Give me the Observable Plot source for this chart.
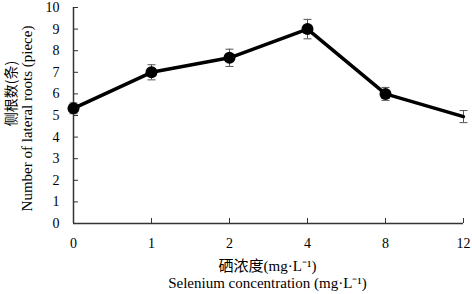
<!DOCTYPE html>
<html><head><meta charset="utf-8">
<script src="https://cdn.jsdelivr.net/npm/d3@7"></script>
<script src="https://cdn.jsdelivr.net/npm/@observablehq/plot@0.6"></script>
<style>
body{margin:0;background:#fff;}
#c{position:relative;width:472px;height:294px;}
svg{font-family:"Liberation Serif","Times New Roman",serif;}
</style></head>
<body><div id="c"></div>
<script>
const concentrations = ["0","1","2","4","8","12"];
const rootCounts = [5.33, 7.0, 7.67, 9.0, 6.0, 4.95];
const errors = [0.25, 0.35, 0.4, 0.45, 0.3, 0.28];
const showDot = [true, true, true, true, true, false];
const yTicks = [0,1,2,3,4,5,6,7,8,9,10];
const yTitleCn = "侧根数(条)";
const yTitleEn = "Number of lateral roots (piece)";
const xTitleCn = "硒浓度(mg·L⁻¹)";
const xTitleEn = "Selenium concentration (mg·L⁻¹)";

const data = concentrations.map((c,i)=>({c, v: rootCounts[i], e: errors[i], dot: showDot[i]}));
const capSymbol = {draw(ctx){ ctx.moveTo(-4,0); ctx.lineTo(4,0); }};

const plot = Plot.plot({
  width: 472, height: 294,
  marginLeft: 73, marginRight: 9, marginTop: 7, marginBottom: 71,
  style: {fontFamily: '"Liberation Serif","Times New Roman",serif', fontSize: "14px", color: "#000", background: "#fff"},
  x: {type: "point", domain: concentrations, padding: 0},
  y: {domain: [0, 10]},
  marks: [
    Plot.axisY({ticks: yTicks, tickSize: -5, text: null, stroke: "#333", label: null}),
    Plot.axisY({ticks: yTicks, tickSize: 0, tickPadding: 14, label: null, fontSize: 14}),
    Plot.axisX({tickSize: -5, text: null, stroke: "#333", label: null}),
    Plot.axisX({tickSize: 0, tickPadding: 15, label: null, fontSize: 14}),
    Plot.ruleX([0], {x: () => "0", y1: 0, y2: 10, stroke: "#333", strokeWidth: 1.5}),
    Plot.ruleY([0], {stroke: "#333", strokeWidth: 1.5}),
    Plot.ruleX(data, {x: "c", y1: d => d.v - d.e, y2: d => d.v + d.e, stroke: "#555", strokeWidth: 1}),
    Plot.dot(data, {x: "c", y: d => d.v - d.e, symbol: capSymbol, r: 4, stroke: "#555", fill: "none", strokeWidth: 1}),
    Plot.dot(data, {x: "c", y: d => d.v + d.e, symbol: capSymbol, r: 4, stroke: "#555", fill: "none", strokeWidth: 1}),
    Plot.line(data, {x: "c", y: "v", stroke: "#000", strokeWidth: 3.5}),
    Plot.dot(data.filter(d => d.dot), {x: "c", y: "v", r: 6, fill: "#000", stroke: "none"}),
    Plot.text([yTitleCn], {frameAnchor: "left", textAnchor: "middle", dx: -62, dy: -22, rotate: -90, fontSize: 14, fontFamily: '"Noto Sans CJK SC", serif', text: d => d}),
    Plot.text([yTitleEn], {frameAnchor: "left", textAnchor: "middle", dx: -46, dy: 3, rotate: -90, fontSize: 15, text: d => d}),
    Plot.text([xTitleCn], {frameAnchor: "bottom", dx: -1, dy: 47, fontSize: 15, fontFamily: '"Liberation Serif","Noto Sans CJK SC", serif', text: d => d}),
    Plot.text([xTitleEn], {frameAnchor: "bottom", dx: -1, dy: 64, fontSize: 15, text: d => d})
  ]
});
document.getElementById("c").appendChild(plot);
</script></body></html>
